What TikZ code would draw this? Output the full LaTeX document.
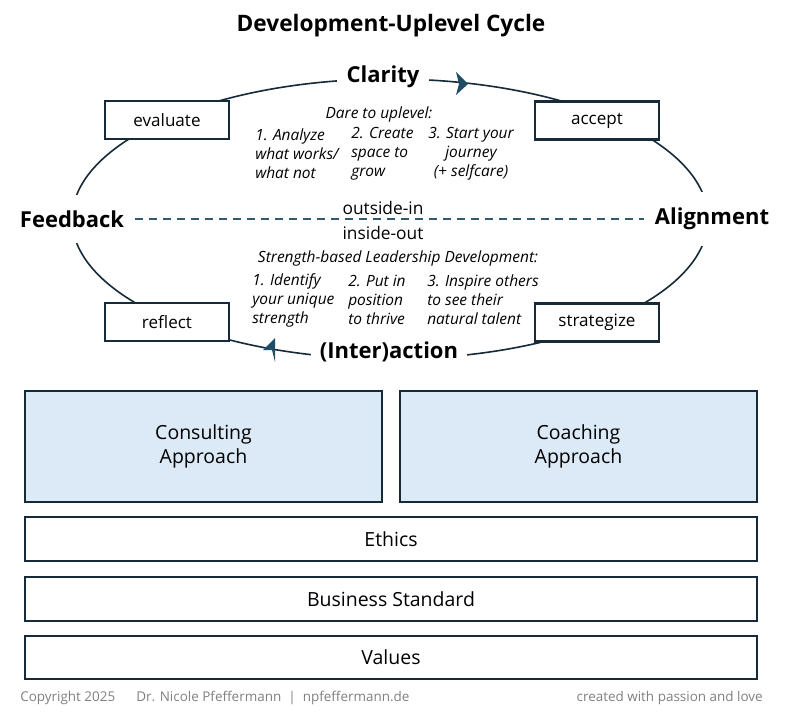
\documentclass[tikz,border=0pt]{standalone}
\usepackage{fontspec}
\setmainfont{Open Sans}
\definecolor{linec}{HTML}{172A38}
\definecolor{arrowc}{HTML}{1F4D66}
\definecolor{dashc}{HTML}{2F5C6C}
\definecolor{fillc}{HTML}{DCE9F6}
\definecolor{footc}{HTML}{808080}
\begin{document}
\begin{tikzpicture}[x=0.75pt,y=-0.75pt,
  cyc/.style={draw=linec, line width=1.2pt},
  smallbox/.style={draw=linec, line width=1.6pt, fill=white, inner sep=0pt,
     minimum width=93pt, minimum height=28.5pt, font=\fontsize{12.8}{14}\selectfont},
  pole/.style={fill=white, inner xsep=7pt, inner ysep=6pt, font=\fontsize{16.5}{19}\bfseries\selectfont},
  bigbox/.style={draw=linec, line width=1.6pt, inner sep=0pt, align=center,
     font=\fontsize{14.6}{18}\selectfont},
  itxt/.style={inner sep=0pt, font=\fontsize{11.6}{14.25}\itshape\selectfont},
  rtxt/.style={inner sep=0pt, font=\fontsize{13}{15}\selectfont},
  foot/.style={inner sep=0pt, text=footc, font=\fontsize{10.1}{12}\selectfont}]
\useasboundingbox (0,0) rectangle (791,720);
\fill[white] (0,0) rectangle (791,720);

% title
\node[inner sep=0pt, font=\fontsize{17}{20}\bfseries\selectfont] (title) at (391,26) {Development-Uplevel Cycle};

% cycle ellipse
\draw[cyc] (390,219) ellipse [x radius=238.5pt, y radius=105pt];

% arrowheads
\fill[arrowc] (456,72) -- (468,84) -- (456,95) -- (459,84) -- cycle;
\fill[arrowc] (263,350) -- (275,338) -- (275,362) -- (272,350) -- cycle;

% poles
\node[pole] (clarity) at (383,77) {Clarity};
\node[pole, inner ysep=12pt, inner xsep=8pt] (feedback) at (72,219) {Feedback};
\node[pole, inner ysep=12pt, inner xsep=8pt] (alignment) at (712,219) {Alignment};
\node[pole] (action) at (389,352) {(Inter)action};

% dashed axis
\draw[dashc, line width=1.2pt, dash pattern=on 6pt off 4.5pt] (feedback.east) -- (alignment.west);

% small boxes
\node[smallbox] (evaluate) at (167,120) {evaluate};
\node[smallbox] (accept) at (597,120.5) {accept};
\node[smallbox] (reflect) at (167,322) {reflect};
\node[smallbox] (strategize) at (597,322.5) {strategize};

% inner texts
\node[itxt] (dare) at (379,114) {Dare to uplevel:};
\node[itxt, anchor=west, align=left] (d1) at (255,154) {1. Analyze\\what works/\\what not};
\node[itxt, anchor=west, align=left] (d2) at (351,154) {2. Create\\space to\\grow};
\node[itxt, align=center] (d3) at (471,154) {3. Start your\\journey\\(+ selfcare)};

\node[rtxt] (outin) at (383,208) {outside-in};
\node[rtxt] (inout) at (383,233) {inside-out};

\node[itxt] (sbl) at (398,258) {Strength-based Leadership Development:};
\node[itxt, anchor=west, align=left] (s1) at (252,300) {1. Identify\\your unique\\strength};
\node[itxt, anchor=west, align=left] (s2) at (348,300) {2. Put in\\position\\to thrive};
\node[itxt, anchor=west, align=left] (s3) at (427,300) {3. Inspire others\\to see their\\natural talent};

% lower boxes
\node[bigbox, fill=fillc, minimum width=267.75pt, minimum height=83.25pt] (consult) at (203.5,446.5) {Consulting\\Approach};
\node[bigbox, fill=fillc, minimum width=267.75pt, minimum height=83.25pt] (coach) at (578.5,446.5) {Coaching\\Approach};
\node[bigbox, minimum width=549pt, minimum height=33pt] (ethics) at (391,539) {Ethics};
\node[bigbox, minimum width=549pt, minimum height=33pt] (business) at (391,599) {Business Standard};
\node[bigbox, minimum width=549pt, minimum height=32.25pt] (values) at (391,657.5) {Values};

% footer
\node[foot, anchor=west] (copy) at (20,698) {Copyright 2025};
\node[foot, anchor=west] (author) at (136,698) {Dr. Nicole Pfeffermann \ \textbar\ \ npfeffermann.de};
\node[foot, anchor=east] (love) at (763,698) {created with passion and love};
\end{tikzpicture}
\end{document}
